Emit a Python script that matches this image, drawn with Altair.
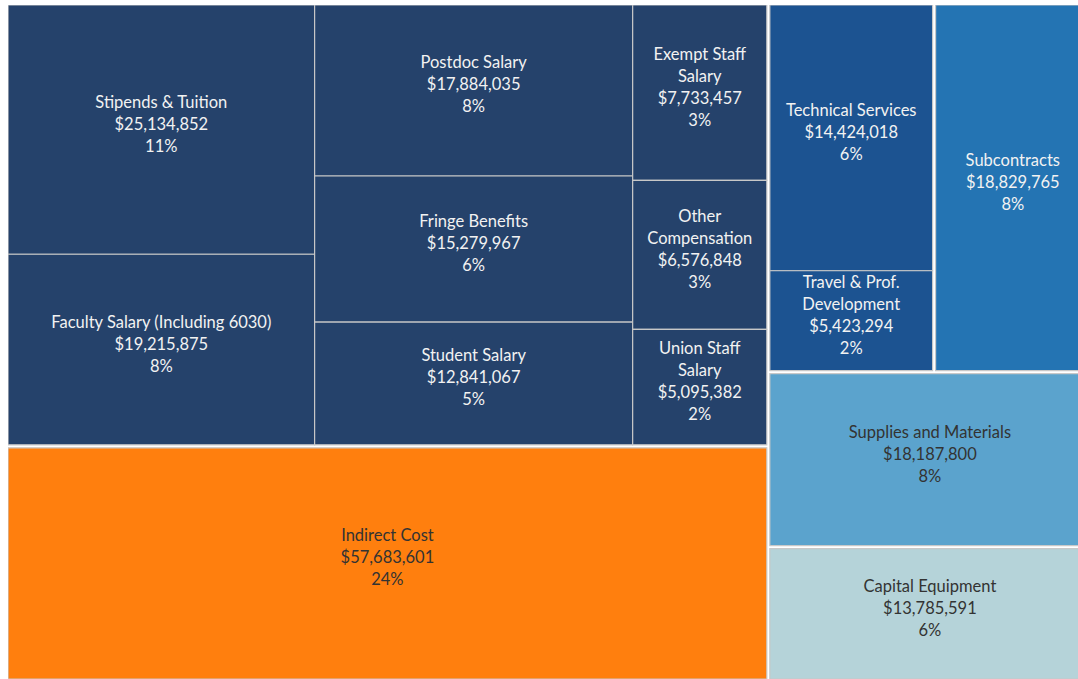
import altair as alt
import pandas as pd

# ---- data ----
names = [
    "Stipends & Tuition", "Faculty Salary (Including 6030)",
    "Postdoc Salary", "Fringe Benefits", "Student Salary",
    "Exempt Staff Salary", "Other Compensation", "Union Staff Salary",
    "Indirect Cost",
    "Technical Services", "Travel & Prof. Development", "Subcontracts",
    "Supplies and Materials", "Capital Equipment",
]
labels = [
    "Stipends & Tuition", "Faculty Salary (Including 6030)",
    "Postdoc Salary", "Fringe Benefits", "Student Salary",
    "Exempt Staff\nSalary", "Other\nCompensation", "Union Staff\nSalary",
    "Indirect Cost",
    "Technical Services", "Travel & Prof.\nDevelopment", "Subcontracts",
    "Supplies and Materials", "Capital Equipment",
]
values = [
    25134852, 19215875,
    17884035, 15279967, 12841067,
    7733457, 6576848, 5095382,
    57683601,
    14424018, 5423294, 18829765,
    18187800, 13785591,
]
groups = [
    "Salaries", "Salaries",
    "Salaries", "Salaries", "Salaries",
    "Salaries", "Salaries", "Salaries",
    "Indirect",
    "Services", "Services", "Subcontracts",
    "Supplies", "Equipment",
]

# ---- hierarchical slice layout (orientation, children, gap) ----
tree = ("h", [
    ("v", [("h", [("v", [0, 1], 0), ("v", [2, 3, 4], 0), ("v", [5, 6, 7], 0)], 0), 8], 3),
    ("v", [("h", [("v", [9, 10], 0), 11], 3), 12, 13], 3),
], 3)

W_TOTAL, H_TOTAL = 1082, 674
VIS_W = 1070
LINE_H = 22


def total(node):
    if isinstance(node, int):
        return values[node]
    return sum(total(k) for k in node[1])


rects = {}


def layout(node, x0, y0, x1, y1):
    if isinstance(node, int):
        rects[node] = (x0, y0, x1, y1)
        return
    orient, kids, gap = node
    tot = sum(total(k) for k in kids)
    if orient == "h":
        avail = (x1 - x0) - gap * (len(kids) - 1)
        pos = x0
        for k in kids:
            w = avail * total(k) / tot
            layout(k, pos, y0, pos + w, y1)
            pos += w + gap
    else:
        avail = (y1 - y0) - gap * (len(kids) - 1)
        pos = y0
        for k in kids:
            h = avail * total(k) / tot
            layout(k, x0, pos, x1, pos + h)
            pos += h + gap


layout(tree, 0, 0, W_TOTAL, H_TOTAL)

grand = sum(values)
rows = []
for i, n in enumerate(names):
    x0, y0, x1, y1 = rects[i]
    pct = round(100 * values[i] / grand)
    txt = f"{labels[i]}\n${values[i]:,}\n{pct}%"
    nlines = txt.count("\n") + 1
    rows.append({
        "name": n,
        "group": groups[i],
        "x0": x0, "x1": x1, "y0": y0, "y1": y1,
        "cx": (x0 + x1) / 2,
        # first line position so that the text block is centred in the cell
        "ty": (y0 + y1) / 2 - (nlines - 1) * LINE_H / 2,
        "text": txt,
    })
df = pd.DataFrame(rows)

xs = alt.Scale(domain=[0, VIS_W], nice=False, zero=False)
ys = alt.Scale(domain=[0, H_TOTAL], nice=False, zero=False, reverse=True)

color_scale = alt.Scale(
    domain=["Salaries", "Indirect", "Services", "Subcontracts", "Supplies", "Equipment"],
    range=["#25426b", "#ff7f0e", "#1c5391", "#2474b3", "#5ba3cd", "#b5d3d9"],
)

base = alt.Chart(df)

rect = base.mark_rect(stroke="#c8c8c8", strokeWidth=1.2, clip=True).encode(
    x=alt.X("x0:Q", scale=xs, axis=None),
    x2="x1:Q",
    y=alt.Y("y0:Q", scale=ys, axis=None),
    y2="y1:Q",
    color=alt.Color("group:N", scale=color_scale, legend=None),
)

text = base.mark_text(
    lineBreak="\n", font="Lato", fontSize=16.5, lineHeight=LINE_H,
    baseline="middle", align="center", dy=-5, clip=True,
).encode(
    x=alt.X("cx:Q", scale=xs, axis=None),
    y=alt.Y("ty:Q", scale=ys, axis=None),
    text="text:N",
    color=alt.condition(
        alt.FieldOneOfPredicate(field="group", oneOf=["Indirect", "Supplies", "Equipment"]),
        alt.value("#333333"),
        alt.value("#f2f2f2"),
    ),
)

chart = alt.layer(rect, text).properties(
    width=VIS_W, height=H_TOTAL,
    padding={"left": 8, "top": 5, "right": 0, "bottom": 0},
    background="white",
).configure_view(stroke=None)

chart.save("out.html", embed_options={"renderer": "svg", "actions": False})
